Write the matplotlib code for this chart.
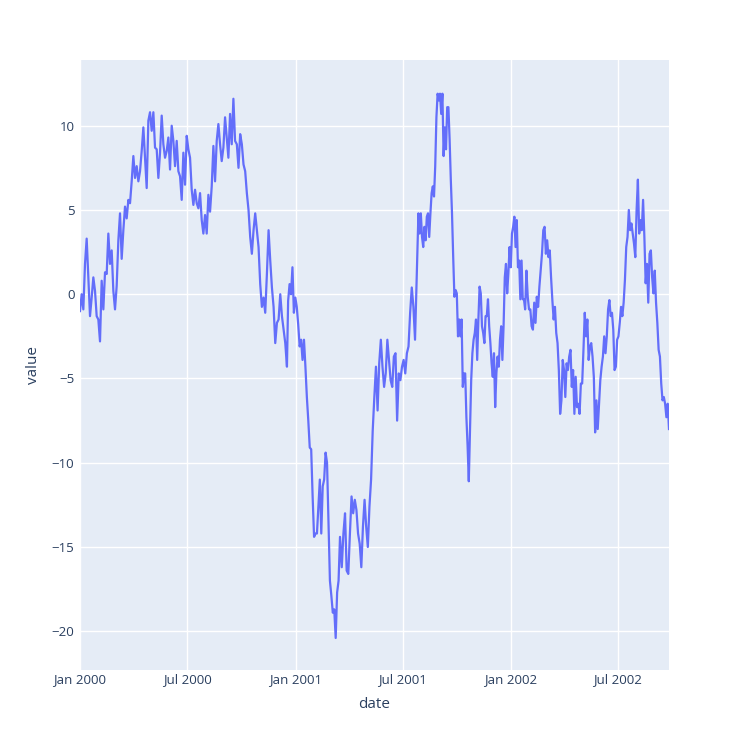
import numpy as np
import pandas as pd
import matplotlib.pyplot as plt

plt.rcParams['font.family'] = ['Open Sans', 'DejaVu Sans']

# values, in pieces; each piece spans its own day range
# (days counted from 2000-01-01)
seg_a_days = (0, 263)
seg_a = [-1.0, 0.0, -0.9, 1.8, 3.3, 1.0, -1.3, -0.2, 1.0, 0.2, -1.3, -1.5, -2.8, 0.8,
         -0.9, 1.3, 1.2, 3.6, 1.8, 2.6, 0.2, -0.9, 0.5, 3.2, 4.8, 2.1, 3.8, 5.2, 4.5,
         5.6, 5.4, 6.7, 8.2, 6.9, 7.6, 6.7, 7.3, 8.5, 9.9, 8.1, 6.3, 10.3, 10.8, 9.7,
         10.8, 8.7, 8.6, 6.9, 8.4, 10.6, 8.9, 8.1, 8.5, 9.3, 7.4, 10.0, 9.1, 7.6, 9.1,
         7.3, 7.0, 5.6, 8.4, 6.5, 9.4, 8.6, 8.1, 6.2, 5.3, 6.2, 5.4, 5.1, 6.0, 4.4, 3.6,
         4.7, 3.6, 5.9, 4.9, 6.4, 8.8, 6.7, 9.1, 10.1, 8.9, 7.9, 8.7, 10.5, 9.3, 8.1,
         10.7, 8.9, 11.6, 9.1]

seg_b_days = (266, 351)
seg_b = [8.9, 7.5, 9.5, 8.9, 7.7, 7.3, 6.0, 5.0, 3.4, 2.4, 3.8, 4.8, 3.8, 2.8, 0.6,
         -0.75, -0.2, -1.1, 1.2, 3.8, 2.0, 0.4, -0.75, -2.9, -1.7, -1.5, 0.0, -1.3,
         -2.1, -2.9, -4.3]

seg_c_days = (353, 441)
seg_c = [-0.4, 0.6, 0.0, 1.6, -1.1, -0.2, -0.75, -1.8, -3.1, -2.7, -3.9, -2.7, -4.3,
         -6.1, -7.5, -9.1, -9.2, -12.0, -14.4, -14.2, -14.2, -12.6, -11.0, -14.2,
         -11.4, -11.0, -9.4, -10.0, -13.4, -17.0, -17.9, -18.9, -18.7, -20.4, -17.7,
         -17.0, -14.4]

seg_d_days = (444, 571)
seg_d = [-16.2, -14.2, -13.0, -16.4, -16.6, -14.2, -12.0, -13.0, -12.2, -12.8, -14.2,
         -14.8, -16.2, -13.8, -12.2, -13.8, -15.0, -12.6, -11.0, -8.1, -6.1, -4.3,
         -6.9, -4.1, -2.7, -4.3, -5.5, -4.7, -2.7, -3.9, -5.1, -5.5, -3.7, -3.5, -7.5,
         -4.7, -5.1, -4.3, -3.9, -4.7, -3.5, -3.1, -1.1, 0.4, -0.75, -2.7, 0.8]

seg_e_days = (574, 753)
seg_e = [4.8, 3.6, 4.8, 3.4, 2.8, 4.0, 3.2, 4.6, 4.8, 3.4, 4.8, 6.0, 6.4, 5.8, 7.6,
         10.5, 11.9, 11.5, 11.9, 10.7, 11.9, 8.2, 9.9, 8.6, 11.1, 11.1, 9.2, 6.8, 4.8,
         2.2, -0.15, 0.25, 0.05, -2.5, -1.5, -2.5, -1.5, -5.5, -4.7, -4.7, -7.3, -9.0,
         -11.1, -8.1, -5.1, -3.5, -2.7, -2.3, -1.5, -3.9, -1.5, 0.45, 0.05, -1.9, -2.3,
         -2.9, -1.3, -1.3, -0.3, -1.9, -2.9, -4.1, -4.9, -3.5, -6.7, -4.7, -3.7, -4.3,
         -2.7, -1.9, -3.9, -1.9, 1.0, 1.8, 0.05, 1.25, 2.8, 1.6, 3.6, 4.0, 4.6, 2.8,
         4.4, 1.6, 2.0, -0.3, 2.0, -0.3, -0.3]

seg_f_days = (755, 999)
seg_f = [-0.9, 1.4, -0.15, -0.9, -0.9, -1.9, -2.1, -0.5, -1.7, -0.15, -0.75, 0.45,
         1.4, 2.4, 3.8, 4.0, 2.4, 3.2, 2.2, 2.6, 1.0, -0.35, -1.5, -0.75, -2.3, -2.9,
         -4.5, -7.1, -6.3, -3.9, -4.5, -6.1, -4.1, -4.5, -3.7, -3.3, -5.5, -4.5, -7.1,
         -4.9, -6.7, -6.5, -7.1, -5.3, -5.3, -3.3, -1.1, -2.5, -1.5, -3.9, -3.1, -2.9,
         -3.7, -4.9, -8.2, -6.3, -8.0, -6.5, -5.1, -4.3, -3.7, -2.5, -3.5, -2.5, -0.9,
         -0.35, -1.3, -1.1, -2.1, -4.5, -4.3, -2.7, -2.5, -1.7, -0.75, -1.3, -0.5,
         0.85, 2.8, 3.4, 5.0, 3.8, 4.2, 3.6, 3.0, 2.2, 5.0, 6.8, 3.6, 4.4, 3.8, 5.6,
         3.4, 0.65, 1.8, -0.5, 2.4, 2.6, 1.0, 0.05, 1.4, -0.5, -1.7, -3.3, -3.7, -5.3,
         -6.3, -6.1, -6.5, -7.3, -6.5, -8.0]

segments = [(seg_a_days, seg_a), (seg_b_days, seg_b), (seg_c_days, seg_c),
            (seg_d_days, seg_d), (seg_e_days, seg_e), (seg_f_days, seg_f)]

tick_dates = ['2000-01-01', '2000-07-01', '2001-01-01', '2001-07-01',
              '2002-01-01', '2002-07-01']
tick_labels = ['Jan 2000', 'Jul 2000', 'Jan 2001', 'Jul 2001', 'Jan 2002', 'Jul 2002']
y_ticks = [-20, -15, -10, -5, 0, 5, 10]

start = pd.Timestamp('2000-01-01')
dates, values = [], []
for (d0, d1), vals in segments:
    days = np.linspace(d0, d1, len(vals))
    dates.extend(start + pd.to_timedelta(days, unit='D'))
    values.extend(vals)

fig = plt.figure(figsize=(7.5, 7.5), dpi=100)
ax = fig.add_axes([80 / 750, 80 / 750, 589 / 750, 610 / 750])
ax.set_facecolor('#E5ECF6')

ax.plot(dates, values, color='#636efa', linewidth=1.6)

ax.set_xlim(start, start + pd.Timedelta(days=999))
ax.set_ylim(-22.3, 13.9)
ax.set_xticks(pd.to_datetime(tick_dates))
ax.set_xticklabels(tick_labels)
ax.set_yticks(y_ticks)

ax.grid(True, color='white', linewidth=1)
ax.set_axisbelow(True)
for s in ax.spines.values():
    s.set_visible(False)
ax.tick_params(length=0, labelsize=9.5, labelcolor='#2a3f5f')
ax.tick_params(axis='x', pad=2)
ax.tick_params(axis='y', pad=4)
ax.set_xlabel('date', fontsize=11, color='#2a3f5f', labelpad=8)
ax.set_ylabel('value', fontsize=11, color='#2a3f5f', labelpad=8)

fig.savefig('out.png', dpi=100)
